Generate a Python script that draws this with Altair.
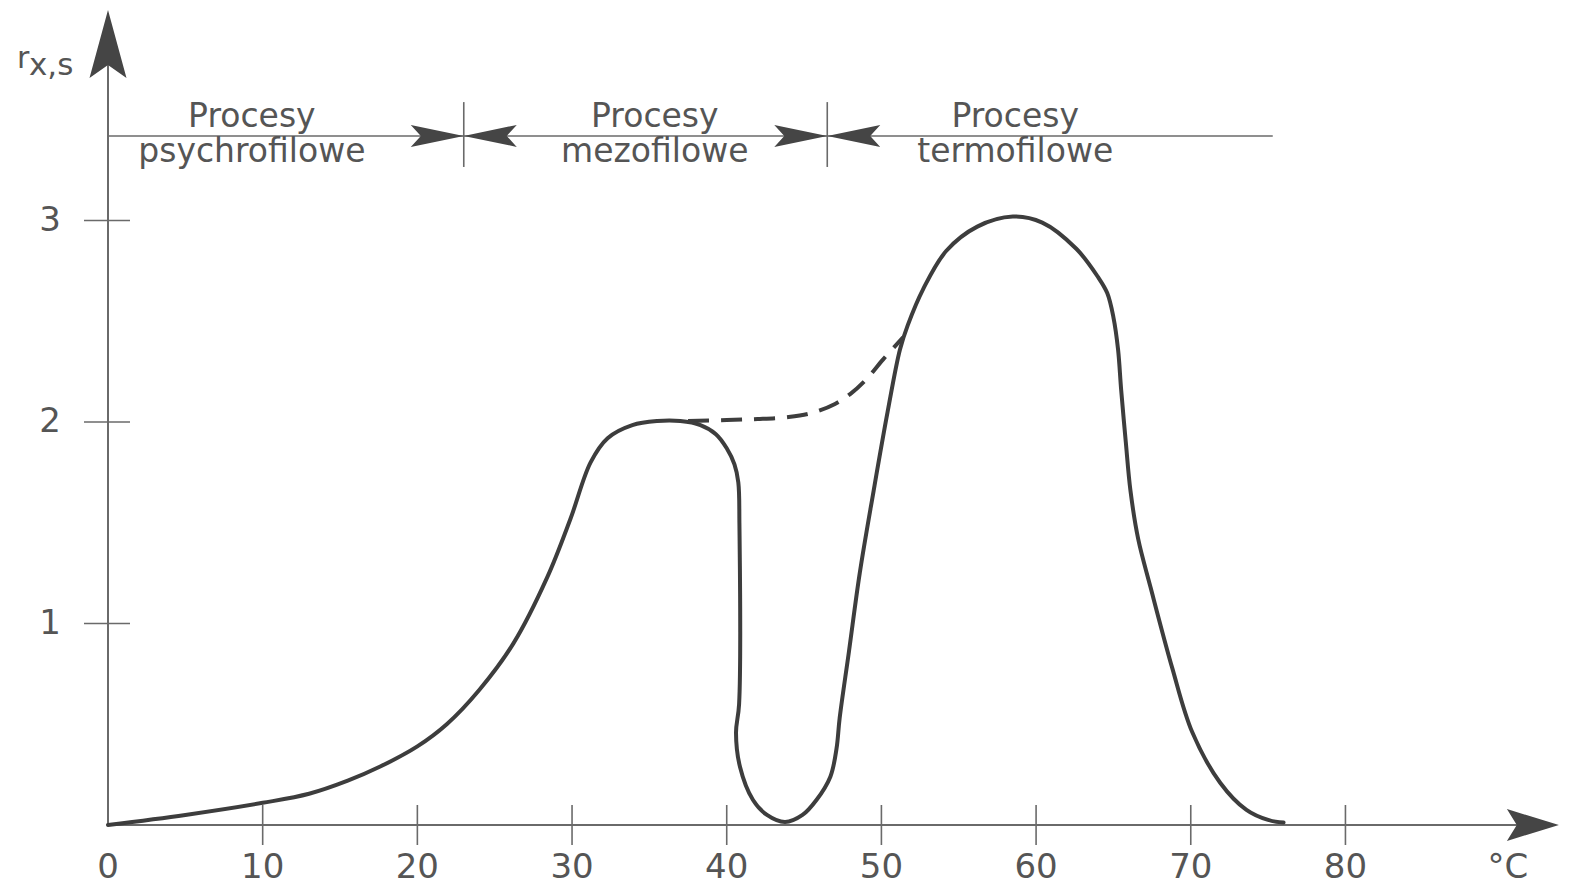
import altair as alt
import pandas as pd

# ---- data ----
curve_t = [0, 5, 10, 13, 15.5, 17.6, 20, 21.9, 24, 26.2,
           28.4, 29.9, 31.2, 32.3, 33.9, 35.5, 37.0, 38.3, 39.3, 40.0,
           40.5, 40.75, 40.82, 40.8, 40.6, 40.86, 41.7, 42.6, 43.77, 44.9,
           45.8, 46.7, 47.1, 47.3, 47.9, 48.6, 49.5, 50.4, 51.2, 51.7,
           52.7, 54.2, 56.2, 58.5, 60.4, 62.6, 64.0, 64.6, 65.0, 65.3,
           65.5, 65.8, 66.1, 66.6, 67.4, 68.8, 70.1, 71.9, 73.6, 75.0,
           76.0]
curve_r = [0, 0.05, 0.11, 0.155, 0.22, 0.29, 0.39, 0.50, 0.67, 0.90,
           1.23, 1.52, 1.80, 1.92, 1.985, 2.005, 2.005, 1.985, 1.94, 1.87,
           1.79, 1.70, 1.50, 0.60, 0.457, 0.288, 0.124, 0.05, 0.015, 0.05,
           0.124, 0.24, 0.38, 0.53, 0.86, 1.25, 1.66, 2.05, 2.36, 2.48,
           2.66, 2.85, 2.97, 3.02, 2.99, 2.86, 2.72, 2.64, 2.52, 2.36,
           2.16, 1.90, 1.66, 1.42, 1.18, 0.78, 0.46, 0.21, 0.075, 0.025,
           0.012]

dash_t = [37.5, 40, 42, 44, 45.5, 47, 48, 49, 50.1, 51.4]
dash_r = [2.005, 2.01, 2.015, 2.025, 2.045, 2.09, 2.14, 2.21, 2.31, 2.42]

x_tick_values = [10, 20, 30, 40, 50, 60, 70, 80]
x_label_values = [0, 10, 20, 30, 40, 50, 60, 70, 80]
y_tick_values = [1, 2, 3]

x_axis_end = 93.0
x_arrow_tip = 93.8
y_axis_end = 4.0
y_arrow_tip = 4.045
unit_label_t = 90.5

range_bounds = [23.0, 46.5]
range_line_end = 75.3
range_line_r = 3.42
sep_r_low = 3.266
sep_r_high = 3.588

process_word = "Procesy"
process_names = ["psychrofilowe", "mezofilowe", "termofilowe"]
process_label_t = [9.3, 35.35, 58.65]
process_word_r = 3.462
process_name_r = 3.29

# ---- styling ----
FONT = "DejaVu Sans"
TEXT_COLOR = "#555555"
AXIS_COLOR = "#6a6a6a"
CURVE_COLOR = "#3d3d3d"
ARROW_COLOR = "#454545"

W, H = 1454, 817
Y_TOP = 4.055
xs = alt.Scale(domain=[0, 94], nice=False, zero=False)
ys = alt.Scale(domain=[0, Y_TOP], nice=False, zero=False)


def X(f):
    return alt.X(f, type="quantitative", scale=xs, axis=None)


def Y(f):
    return alt.Y(f, type="quantitative", scale=ys, axis=None)


curve_df = pd.DataFrame({"t": curve_t, "r": curve_r, "i": range(len(curve_t))})
dash_df = pd.DataFrame({"t": dash_t, "r": dash_r, "i": range(len(dash_t))})

# axes
x_axis_line = alt.Chart(pd.DataFrame({"a": [0.0], "b": [x_axis_end], "r": [0.0]})).mark_rule(
    color=AXIS_COLOR, strokeWidth=2).encode(x=X("a"), x2="b", y=Y("r"))
y_axis_line = alt.Chart(pd.DataFrame({"t": [0.0], "a": [0.0], "b": [y_axis_end]})).mark_rule(
    color=AXIS_COLOR, strokeWidth=2).encode(x=X("t"), y=Y("a"), y2="b")

x_ticks = alt.Chart(pd.DataFrame({"t": x_tick_values})).mark_rule(
    color=AXIS_COLOR, strokeWidth=1.6).encode(x=X("t"), y=alt.value(797), y2=alt.value(837))
y_ticks = alt.Chart(pd.DataFrame({"r": y_tick_values})).mark_rule(
    color=AXIS_COLOR, strokeWidth=1.6).encode(y=Y("r"), x=alt.value(-24), x2=alt.value(22))

x_labels = alt.Chart(pd.DataFrame({"t": x_label_values})).mark_text(
    font=FONT, fontSize=34, color=TEXT_COLOR, baseline="middle", align="center").encode(
    x=X("t"), y=alt.value(860), text=alt.Text("t:Q"))
y_labels = alt.Chart(pd.DataFrame({"r": y_tick_values})).mark_text(
    font=FONT, fontSize=34, color=TEXT_COLOR, baseline="middle", align="center").encode(
    y=Y("r"), x=alt.value(-58), text=alt.Text("r:Q"))

unit_label = alt.Chart(pd.DataFrame({"t": [unit_label_t], "s": ["°C"]})).mark_text(
    font=FONT, fontSize=34, color=TEXT_COLOR, baseline="middle", align="center").encode(
    x=X("t"), y=alt.value(860), text="s:N")

r_main = alt.Chart(pd.DataFrame({"s": ["r"]})).mark_text(
    font=FONT, fontSize=30, color=TEXT_COLOR, baseline="alphabetic", align="left").encode(
    x=alt.value(-91), y=alt.value(60), text="s:N")
r_sub = alt.Chart(pd.DataFrame({"s": ["x,s"]})).mark_text(
    font=FONT, fontSize=31, color=TEXT_COLOR, baseline="alphabetic", align="left").encode(
    x=alt.value(-79), y=alt.value(67), text="s:N")

# arrow heads (tip at anchor)
up_arrow = "M0,0 L0.544,2 L0,1.62 L-0.544,2 Z"
right_arrow_axis = "M0,0 L-2,-0.615 L-1.62,0 L-2,0.615 Z"
dart_right = "M0,0 L-2,-0.415 L-1.62,0 L-2,0.415 Z"
dart_left = "M0,0 L2,-0.415 L1.62,0 L2,0.415 Z"

y_arrow = alt.Chart(pd.DataFrame({"t": [0.0], "r": [y_arrow_tip]})).mark_point(
    shape=up_arrow, size=68 * 68, filled=True, color=ARROW_COLOR, opacity=1, strokeWidth=0).encode(
    x=X("t"), y=Y("r"))
x_arrow = alt.Chart(pd.DataFrame({"t": [x_arrow_tip], "r": [0.0]})).mark_point(
    shape=right_arrow_axis, size=52 * 52, filled=True, color=ARROW_COLOR, opacity=1, strokeWidth=0).encode(
    x=X("t"), y=Y("r"))

# process ranges
range_line = alt.Chart(pd.DataFrame({"a": [0.0], "b": [range_line_end], "r": [range_line_r]})).mark_rule(
    color=AXIS_COLOR, strokeWidth=1.6).encode(x=X("a"), x2="b", y=Y("r"))
separators = alt.Chart(pd.DataFrame({"t": range_bounds, "a": [sep_r_low] * 2, "b": [sep_r_high] * 2})).mark_rule(
    color=AXIS_COLOR, strokeWidth=1.6).encode(x=X("t"), y=Y("a"), y2="b")
darts_r = alt.Chart(pd.DataFrame({"t": range_bounds, "r": [range_line_r] * 2})).mark_point(
    shape=dart_right, size=53 * 53, filled=True, color=ARROW_COLOR, opacity=1, strokeWidth=0).encode(
    x=X("t"), y=Y("r"))
darts_l = alt.Chart(pd.DataFrame({"t": range_bounds, "r": [range_line_r] * 2})).mark_point(
    shape=dart_left, size=53 * 53, filled=True, color=ARROW_COLOR, opacity=1, strokeWidth=0).encode(
    x=X("t"), y=Y("r"))

proc_df = pd.DataFrame({"t": process_label_t, "name": process_names, "w": [process_word] * 3,
                        "rw": [process_word_r] * 3, "rn": [process_name_r] * 3})
proc_word = alt.Chart(proc_df).mark_text(
    font=FONT, fontSize=33, color=TEXT_COLOR, baseline="alphabetic", align="center").encode(
    x=X("t"), y=Y("rw"), text="w:N")
proc_name = alt.Chart(proc_df).mark_text(
    font=FONT, fontSize=33, color=TEXT_COLOR, baseline="alphabetic", align="center").encode(
    x=X("t"), y=Y("rn"), text="name:N")

# curves
solid = alt.Chart(curve_df).mark_line(
    color=CURVE_COLOR, strokeWidth=4, interpolate="catmull-rom", strokeCap="round", strokeJoin="round").encode(
    x=X("t"), y=Y("r"), order="i:Q")
dashed = alt.Chart(dash_df).mark_line(
    color=CURVE_COLOR, strokeWidth=4, interpolate="catmull-rom", strokeDash=[21, 12]).encode(
    x=X("t"), y=Y("r"), order="i:Q")

chart = alt.layer(
    x_axis_line, y_axis_line, x_ticks, y_ticks, x_labels, y_labels, unit_label, r_main, r_sub,
    range_line, separators, darts_r, darts_l, proc_word, proc_name,
    dashed, solid, y_arrow, x_arrow,
).properties(
    width=W, height=H,
    background="white",
    autosize=alt.AutoSizeParams(type="none"),
    padding={"left": 100, "top": 0, "right": 10, "bottom": 60},
).configure_view(strokeWidth=0, stroke=None)

chart.save("out.html", embed_options={"renderer": "svg", "actions": False})
